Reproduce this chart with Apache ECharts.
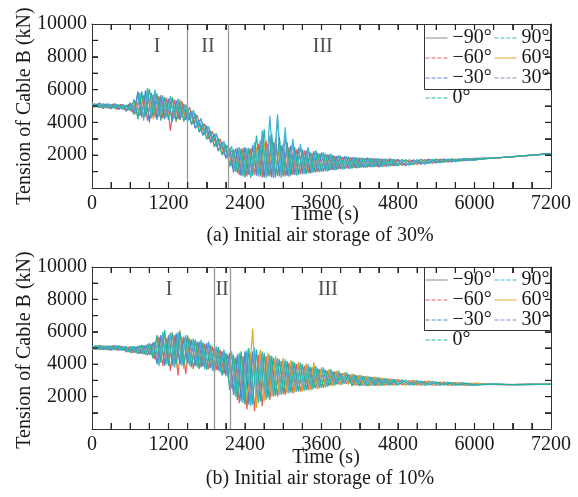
<!DOCTYPE html>
<html><head><meta charset="utf-8">
<script src="https://cdn.jsdelivr.net/npm/echarts@6/dist/echarts.min.js"></script>
<style>html,body{margin:0;padding:0;background:#fff}#c{width:578px;height:497px}</style>
</head><body><div id="c"></div>
<script>
// Time stamps (s): two interleaved sampling grids
const timesA = [0,60,120,180,240,300,360,420,480,540,600,660,720,780,840,900,960,1020,1080,1140,1200,1260,1320,1380,1440,1500,1560,1620,1680,1740,1800,1860,1920,1980,2040,2100,2160,2220,2280,2340,2400,2460,2520,2580,2640,2700,2760,2820,2880,2940,3000,3060,3120,3180,3240,3300,3360,3420,3480,3540,3600,3660,3720,3780,3840,3900,3960,4020,4080,4140,4200,4260,4320,4380,4440,4500,4560,4620,4680,4740,4800,4920,5040,5160,5280,5400,5520,5640,5760,5880,6000,6300,6600,6900,7200];
const timesB = [30,90,150,210,270,330,390,450,510,570,630,690,750,810,870,930,990,1050,1110,1170,1230,1290,1350,1410,1470,1530,1590,1650,1710,1770,1830,1890,1950,2010,2070,2130,2190,2250,2310,2370,2430,2490,2550,2610,2670,2730,2790,2850,2910,2970,3030,3090,3150,3210,3270,3330,3390,3450,3510,3570,3630,3690,3750,3810,3870,3930,3990,4050,4110,4170,4230,4290,4350,4410,4470,4530,4590,4650,4710,4770,4860,4980,5100,5220,5340,5460,5580,5700,5820,5940,6150,6450,6750,7050,7200];

const seriesNames = ['\u221290°','\u221260°','\u221230°','0°','90°','60°','30°'];
const xTickLabels = [0,1200,2400,3600,4800,6000,7200];
const yTickLabels = [2000,4000,6000,8000,10000];
const xTickMarks = [300,600,900,1200,1500,1800,2100,2400,2700,3000,3300,3600,3900,4200,4500,4800,5100,5400,5700,6000,6300,6600,6900];
const yTickMarks = [1000,2000,3000,4000,5000,6000,7000,8000,9000];
const topStages = [[1020,8600,'I'],[1820,8600,'II'],[3620,8600,'III']];
const topBounds = [1500,2135];
const botStages = [[1208,8600,'I'],[2040,8600,'II'],[3700,8600,'III']];
const botBounds = [1915,2165];

// (a) Initial air storage of 30%
const top_m90 = [5185,4960,5150,4847,5090,4836,5150,4830,5074,4675,5075,4470,5720,4460,5700,4150,5525,4280,5670,4450,5340,4170,5125,4270,5145,4200,4615,3645,4000,3230,3710,2860,3180,2290,2600,1840,2440,1220,2195,790,2050,880,2505,1040,2470,670,2300,870,2600,1080,2315,790,2050,920,2365,1120,2110,875,1900,990,2135,1190,1935,1100,1800,1190,1930,1310,1815,1215,1730,1270,1855,1350,1775,1270,1700,1320,1800,1390,1725,1360,1680,1455,1765,1555,1745,1590,1750,1675,1815,1840,1900,2010,2100];
const top_m60 = [4900,5150,4880,5120,4850,5130,4800,5100,4760,5100,4620,5300,4400,5650,4100,5800,4300,5600,4250,5500,3500,5400,4200,5300,4150,4950,3900,4450,3450,3900,3000,3450,2550,3000,2050,2600,1350,2400,800,2450,700,2400,800,2700,650,2900,700,2800,750,2600,700,2500,800,2350,850,2300,900,2150,950,2100,1000,2050,1100,1950,1150,1900,1200,1880,1230,1850,1260,1820,1280,1800,1300,1780,1330,1760,1350,1740,1370,1720,1430,1740,1500,1760,1580,1770,1650,1790,1790,1870,1955,2050,2100];
const top_m30 = [5100,4950,5180,4880,5150,4820,5120,4780,5110,4720,5200,4600,5900,4300,5950,4000,5700,4150,5500,4200,5450,4050,5350,4150,5000,4050,4700,3650,4150,3200,3800,2750,3300,2250,2800,1800,2350,950,2450,750,2500,800,2600,750,2900,650,2700,650,3000,700,2700,750,2600,800,2450,850,2300,950,2250,1000,2150,1050,2050,1100,1950,1150,1900,1180,1870,1220,1840,1250,1820,1280,1800,1300,1780,1320,1760,1350,1740,1390,1720,1460,1730,1530,1760,1600,1780,1670,1800,1825,1905,2000,2100];
const top_0 = [4950,5130,4900,5150,4870,5100,4850,5080,4800,5050,4700,5400,4200,5900,4350,6050,4400,5750,4100,5550,4150,5500,4100,5250,4050,4900,3850,4550,3400,3950,2950,3500,2500,3050,2000,2650,1300,2350,900,2400,650,2450,750,3200,700,3600,700,3300,650,3100,700,2800,750,2500,800,2350,850,2200,950,2150,1000,2100,1050,2000,1100,1950,1150,1900,1200,1860,1230,1830,1260,1810,1290,1790,1310,1770,1340,1750,1360,1730,1420,1750,1490,1770,1570,1780,1640,1790,1710,1830,1910,2000,2100];
const top_90 = [5150,4920,5120,4900,5130,4870,5100,4850,5060,4780,5150,4500,5800,4100,6100,4300,6000,4400,5650,4300,5600,4250,5450,4300,5100,4150,4750,3700,4250,3250,3750,2800,3350,2350,2850,1900,2550,1000,2500,700,2450,600,2800,800,3500,600,4400,700,4500,650,3700,700,3000,750,2700,850,2500,900,2300,950,2200,1000,2100,1080,2000,1130,1950,1170,1900,1210,1860,1240,1830,1270,1810,1300,1790,1320,1770,1340,1750,1380,1730,1450,1750,1520,1770,1600,1790,1680,1795,1875,1960,2055,2105];
const top_60 = [4980,5100,4920,5080,4900,5060,4880,5050,4850,5000,4750,5250,4500,5600,4600,5500,4200,5650,4300,5450,4350,5550,4000,5400,4200,4850,3950,4400,3500,3850,3050,3400,2600,2950,2100,2550,1450,2250,1000,2350,850,2350,900,2500,800,2800,800,2600,850,2450,800,2400,850,2300,900,2200,950,2100,1000,2050,1050,2000,1100,1950,1150,1900,1180,1870,1220,1840,1250,1810,1280,1790,1300,1770,1330,1750,1350,1730,1380,1710,1440,1730,1510,1750,1590,1770,1660,1780,1730,1825,1905,1995,2095];
const top_30 = [5120,4980,5100,4950,5080,4900,5070,4880,5040,4820,5100,4650,5500,4350,5800,4250,5850,4350,5400,4350,5300,4300,5300,4350,5050,4250,4650,3750,4200,3300,3700,2850,3250,2400,2750,1950,2300,1100,2350,850,2300,700,2500,700,3100,750,3200,600,4300,650,3200,700,2800,800,2550,900,2400,950,2250,1000,2100,1100,2000,1120,1950,1160,1880,1200,1850,1240,1820,1270,1800,1290,1780,1310,1760,1340,1740,1360,1720,1400,1710,1470,1720,1540,1750,1610,1770,1680,1785,1865,1950,2045,2100];

// (b) Initial air storage of 10%
const bot_m90 = [5150,4900,5170,4880,5120,4860,5140,4870,5100,4750,5080,4720,5100,4650,5150,4600,5300,4000,5700,4000,5800,3900,5600,4000,5700,4100,5500,4000,5300,3900,5200,3800,5000,3700,4700,3400,4600,2300,4500,2000,4700,1800,4800,1900,4600,2000,4500,2100,4300,2200,4200,2300,4100,2350,4000,2400,3900,2500,3800,2600,3700,2650,3600,2750,3500,2800,3400,2850,3300,2750,3250,2700,3200,2720,3150,2700,3100,2720,3050,2730,3020,2720,2980,2700,2930,2700,2880,2700,2840,2710,2800,2770,2740,2760,2750];
const bot_m60 = [4880,5150,4900,5130,4870,5160,4860,5120,4850,5050,4700,5080,4650,5150,4550,5250,4300,5700,3900,5600,3600,5800,3300,5700,3400,5600,3700,5400,3800,5250,3700,5100,3650,4900,3400,4600,2500,4400,1600,4500,1200,4700,1100,4600,1400,4500,1800,4400,2000,4200,2100,4100,2200,4000,2300,3900,2400,3800,2500,3700,2550,3600,2700,3550,2750,3450,2800,3350,2700,3300,2680,3250,2650,3200,2680,3150,2700,3100,2710,3050,2720,3000,2700,2950,2700,2900,2700,2860,2710,2820,2760,2745,2755,2750,2750];
const bot_m30 = [5120,4930,5150,4900,5130,4890,5110,4880,5080,4780,5050,4750,5120,4680,5180,4620,5350,4100,5800,3900,5700,4100,5900,4000,5600,4050,5500,3900,5400,3850,5300,3750,5000,3600,4800,3300,4700,2100,4600,1700,4800,1500,4700,1700,4700,1900,4550,2050,4350,2150,4250,2250,4150,2300,4050,2350,3950,2450,3850,2550,3750,2600,3650,2700,3550,2750,3450,2800,3350,2720,3280,2690,3220,2700,3170,2690,3120,2710,3070,2720,3030,2710,2990,2700,2940,2700,2890,2700,2850,2710,2810,2760,2740,2755,2750];
const bot_0 = [4900,5140,4920,5110,4880,5130,4900,5150,4860,5080,4720,5100,4640,5180,4580,5300,4350,5800,4100,6100,3900,5900,4000,6000,3900,5700,3800,5500,3700,5350,3650,5200,3500,5050,3300,4700,2400,4550,1800,4800,1500,5000,1500,4900,1700,4700,1900,4500,2050,4300,2150,4200,2250,4100,2300,4000,2400,3850,2500,3750,2550,3650,2650,3550,2750,3450,2800,3400,2650,3320,2650,3260,2660,3210,2670,3160,2690,3110,2700,3060,2710,3010,2700,2960,2700,2910,2700,2870,2700,2830,2710,2770,2740,2760,2750];
const bot_90 = [5160,4920,5140,4890,5150,4870,5130,4860,5100,4760,5100,4700,5150,4620,5220,4550,5400,3900,6000,4000,5900,3800,6000,3900,5800,3900,5600,3800,5500,3700,5400,3600,5100,3500,4900,3200,4800,2000,4700,1600,4900,1400,5000,1600,4800,1800,4600,2000,4400,2100,4300,2200,4200,2300,4100,2350,4000,2400,3900,2500,3800,2600,3700,2700,3600,2750,3500,2800,3380,2700,3300,2680,3240,2680,3180,2690,3130,2700,3080,2710,3040,2710,3000,2700,2950,2700,2900,2700,2860,2700,2765,2750,2745,2755,2750];
const bot_60 = [4920,5120,4890,5140,4900,5110,4880,5130,4870,5060,4740,5060,4680,5140,4600,5200,4400,5600,4200,5900,4000,6000,3800,6100,3700,5800,3900,5450,3800,5300,3750,5150,3550,4950,3350,4650,2600,4600,2000,4700,1600,2600,6200,1300,4900,1700,4700,2000,4500,2100,4400,2200,4250,2250,4150,2300,4050,2400,4100,2450,3800,2550,3700,2650,3600,2700,3500,2750,3420,2680,3350,2670,3280,2670,3220,2680,3170,2690,3120,2700,3070,2710,3020,2700,2970,2700,2920,2700,2880,2710,2840,2760,2745,2755,2750];
const bot_30 = [5100,4950,5130,4920,5100,4900,5120,4890,5060,4800,5070,4730,5130,4660,5200,4580,5380,4200,5600,4100,5950,4000,5800,4100,5650,4000,5450,3950,5350,3900,5250,3800,4950,3650,4750,3350,4650,2200,4550,1800,4750,1600,4650,1800,4650,1950,4500,2100,4300,2200,4200,2300,4100,2350,4000,2400,3900,2500,3800,2600,3700,2650,3600,2750,3500,2800,3400,2850,3320,2700,3260,2690,3210,2700,3160,2700,3110,2710,3060,2720,3020,2710,2980,2700,2930,2700,2880,2700,2840,2710,2770,2750,2745,2755,2750];

const F = "'Liberation Serif','Times New Roman',serif";
const seriesColors = ['#8c8c8c','#e5605a','#4f86d6','#25b29c','#3cb9d0','#e2a92c','#a27cc8'];
const legendTypes = ['solid','dashed','dashed','dashed','dashed','solid','dashed'];
// which sampling grid each series uses (0 = timesA, 1 = timesB)
const gridOf = [0,1,0,0,1,0,1];

const topSet = [top_m90, top_m60, top_m30, top_0, top_90, top_60, top_30];
const botSet = [bot_m90, bot_m60, bot_m30, bot_0, bot_90, bot_60, bot_30];
const drawOrder = [0,1,2,5,6,4,3];
const X_MAX = 7200, Y_MAX = 10000, TICK_LEN = 6;

function lineSeries(idx, vals, gi) {
  const tt = gridOf[idx] ? timesB : timesA;
  return {
    type:'line', name: seriesNames[idx], xAxisIndex: gi*2, yAxisIndex: gi*2,
    data: tt.map((t,i)=>[t, vals[i]]), symbol:'none', showSymbol:false,
    lineStyle:{width:1.2, color: seriesColors[idx]}, itemStyle:{color: seriesColors[idx]},
    silent:true, animation:false
  };
}
function stageSeries(gi, stages, bounds) {
  return {
    type:'scatter', xAxisIndex: gi*2, yAxisIndex: gi*2, data: stages, symbolSize:1,
    itemStyle:{color:'transparent'}, silent:true, animation:false, z:5,
    label:{show:true, position:'inside', formatter:p=>p.value[2], fontSize:20, fontFamily:F, color:'#222'},
    markLine:{silent:true, symbol:'none', animation:false, label:{show:false},
      lineStyle:{color:'#9a9a9a', width:1.3, type:'solid'},
      data: bounds.map(b=>({xAxis:b}))}
  };
}
// inward tick marks on all four sides, placed through the axis scales
function tickRender(params, api) {
  const v = api.value(0), k = api.value(1);
  const st = {stroke:'#222', lineWidth:1.2};
  let p, q, shapes;
  if (k === 0) {
    p = api.coord([v, 0]); q = api.coord([v, Y_MAX]);
    shapes = [[p[0], p[1], p[0], p[1]-TICK_LEN], [q[0], q[1], q[0], q[1]+TICK_LEN]];
  } else {
    p = api.coord([0, v]); q = api.coord([X_MAX, v]);
    shapes = [[p[0], p[1], p[0]+TICK_LEN, p[1]], [q[0], q[1], q[0]-TICK_LEN, q[1]]];
  }
  return {type:'group', children: shapes.map(s=>({type:'line',
    shape:{x1:s[0], y1:s[1], x2:s[2], y2:s[3]}, style:st}))};
}
function tickSeries(gi) {
  return {
    type:'custom', xAxisIndex: gi*2, yAxisIndex: gi*2, clip:false, silent:true, animation:false, z:6,
    data: xTickMarks.map(v=>[v,0]).concat(yTickMarks.map(v=>[v,1])),
    renderItem: tickRender
  };
}
const series = [];
[topSet, botSet].forEach((set, gi) => {
  drawOrder.forEach(k => series.push(lineSeries(k, set[k], gi)));
});
series.push(tickSeries(0));
series.push(tickSeries(1));
series.push(stageSeries(0, topStages, topBounds));
series.push(stageSeries(1, botStages, botBounds));

const axisColor = '#333';
function mkTick() { return {show:true, inside:true, length:TICK_LEN, lineStyle:{color:axisColor}}; }
function xAxes(gi) {
  return [
    {type:'value', gridIndex:gi, min:0, max:X_MAX, interval:300, position:'bottom',
     axisLine:{show:true, onZero:false, lineStyle:{color:axisColor}},
     axisTick:mkTick(),
     axisLabel:{formatter:v=> xTickLabels.includes(v) ? String(v) : '', color:'#1a1a1a', fontSize:20, fontFamily:F, margin:6},
     splitLine:{show:false}},
    {type:'value', gridIndex:gi, min:0, max:X_MAX, interval:300, position:'top',
     axisLine:{show:true, onZero:false, lineStyle:{color:axisColor}},
     axisTick:mkTick(), axisLabel:{show:false}, splitLine:{show:false}}
  ];
}
function yAxes(gi) {
  return [
    {type:'value', gridIndex:gi, min:0, max:Y_MAX, interval:1000, position:'left',
     axisLine:{show:true, onZero:false, lineStyle:{color:axisColor}},
     axisTick:mkTick(),
     axisLabel:{formatter:v=> yTickLabels.includes(v) ? String(v) : '', color:'#1a1a1a', fontSize:20, fontFamily:F, margin:5},
     splitLine:{show:false}},
    {type:'value', gridIndex:gi, min:0, max:Y_MAX, interval:1000, position:'right',
     axisLine:{show:true, onZero:false, lineStyle:{color:axisColor}},
     axisTick:mkTick(), axisLabel:{show:false}, splitLine:{show:false}}
  ];
}

function legendCol(left, top, idxs) {
  return {
    left, top, orient:'vertical', itemGap:0, itemWidth:22, itemHeight:14, padding:0,
    selectedMode:false,
    textStyle:{fontSize:20, fontFamily:F, color:'#1a1a1a', lineHeight:14},
    data: idxs.map(i=>({name:seriesNames[i],
      itemStyle:{opacity:0, borderWidth:0},
      lineStyle:{type:legendTypes[i], width:1, color:seriesColors[i], opacity:1}}))
  };
}
const legends = [
  legendCol(425, 28, [0,1,2,3]), legendCol(494, 28, [4,5,6]),
  legendCol(425, 270, [0,1,2,3]), legendCol(494, 270, [4,5,6])
];

function txt(x, y, text, rot) {
  return {type:'text', x, y, rotation: rot||0,
    style:{text, font:'20px '+F, fill:'#1a1a1a', textAlign:'center', textVerticalAlign:'middle'}};
}
const graphic = [
  {type:'rect', shape:{x:424.5, y:24.5, width:126, height:65}, style:{fill:'none', stroke:'#333', lineWidth:1}},
  {type:'rect', shape:{x:424.5, y:267.5, width:126, height:63}, style:{fill:'none', stroke:'#333', lineWidth:1}},
  txt(325, 215, 'Time (s)'),
  txt(320, 236, '(a) Initial air storage of 30%'),
  txt(326, 458, 'Time (s)'),
  txt(320, 479, '(b) Initial air storage of 10%'),
  txt(25, 106, 'Tension of Cable B (kN)', Math.PI/2),
  txt(25, 350, 'Tension of Cable B (kN)', Math.PI/2)
];

const chart = echarts.init(document.getElementById('c'), null, {renderer:'canvas'});
chart.setOption({
  animation:false,
  backgroundColor:'#fff',
  grid:[{left:92, top:24, width:459, height:164}, {left:92, top:267, width:459, height:162}],
  xAxis:[...xAxes(0), ...xAxes(1)],
  yAxis:[...yAxes(0), ...yAxes(1)],
  legend: legends,
  graphic,
  series
});
</script></body></html>
